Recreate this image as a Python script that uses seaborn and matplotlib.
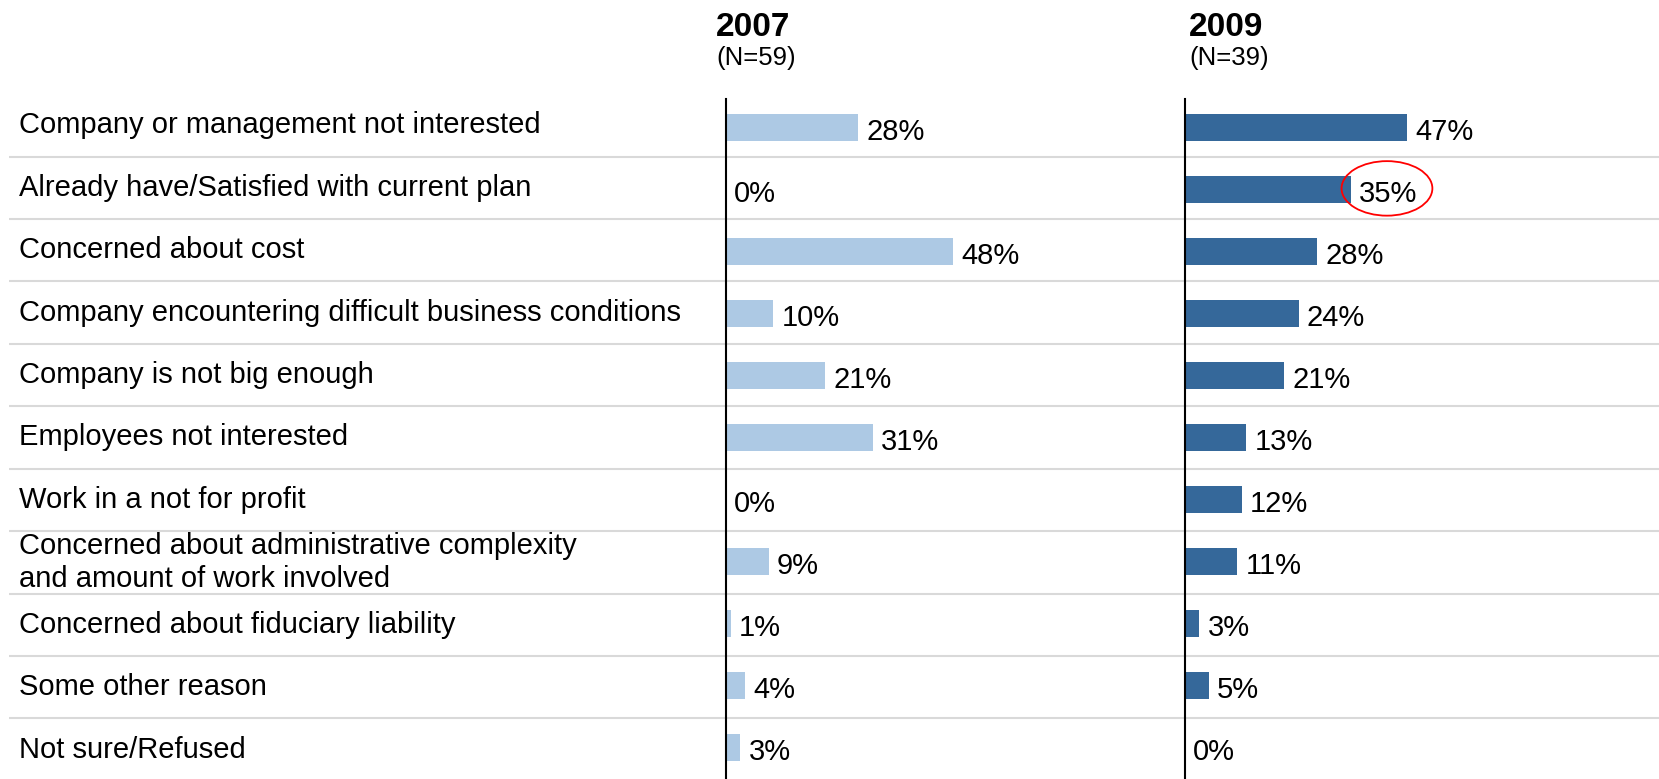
import pandas as pd
import numpy as np
import matplotlib
matplotlib.use("Agg")
import matplotlib.pyplot as plt
import seaborn as sns
from matplotlib.patches import Ellipse

# data
reasons = [
    "Company or management not interested",
    "Already have/Satisfied with current plan",
    "Concerned about cost",
    "Company encountering difficult business conditions",
    "Company is not big enough",
    "Employees not interested",
    "Work in a not for profit",
    "Concerned about administrative complexity\nand amount of work involved",
    "Concerned about fiduciary liability",
    "Some other reason",
    "Not sure/Refused",
]
pct_2007 = [28, 0, 48, 10, 21, 31, 0, 9, 1, 4, 3]
pct_2009 = [47, 35, 28, 24, 21, 13, 12, 11, 3, 5, 0]
years = ["2007", "2009"]
sample_sizes = ["(N=59)", "(N=39)"]

light_blue = "#ADC9E4"
dark_blue = "#35689A"
sep_color = "#D9D9D9"

sns.set_style("white")
plt.rcParams["font.family"] = ["Liberation Sans", "DejaVu Sans"]
plt.rcParams["text.color"] = "black"

W, H = 1659, 779
fig = plt.figure(figsize=(W / 100, H / 100), dpi=100)

df = pd.DataFrame({"reason": reasons, "y2007": pct_2007, "y2009": pct_2009})
n = len(reasons)

# row band geometry (pixels)
rows_top, rows_bottom = 94.2, 780.8
ax_bottom = (H - rows_bottom) / H
ax_height = (rows_bottom - rows_top) / H

# background axes for separators and category labels
bg = fig.add_axes([9 / W, ax_bottom, 1 - 9 / W, ax_height])
bg.set_xlim(0, 1)
bg.set_ylim(n - 0.5, -0.5)
bg.axis("off")
for i in range(n - 1):
    bg.axhline(i + 0.5, color=sep_color, lw=1.5, zorder=0)
for i, r in enumerate(reasons):
    bg.text(10 / W, i, r, fontsize=21, va="center", ha="left",
            transform=bg.get_yaxis_transform(), linespacing=1.2)

px_per_pct = 4.73
panels = [
    ("y2007", light_blue, 726, 716),
    ("y2009", dark_blue, 1185, 1189),
]
axes = []
for (col, color, x0, hx), year, nlab in zip(panels, years, sample_sizes):
    width_px = W - x0 - 2 if col == "y2009" else 1185 - x0 - 20
    ax = fig.add_axes([x0 / W, ax_bottom, width_px / W, ax_height])
    sns.barplot(data=df, x=col, y="reason", orient="h", color=color,
                saturation=1, width=0.44, ax=ax, linewidth=0)
    ax.set_xlim(0, width_px / px_per_pct)
    ax.set_ylim(n - 0.46, -0.54)
    ax.patch.set_alpha(0)
    ax.set_xlabel("")
    ax.set_ylabel("")
    ax.set_xticks([])
    ax.set_yticks([])
    for s in ["top", "right", "bottom"]:
        ax.spines[s].set_visible(False)
    ax.spines["left"].set_color("black")
    ax.spines["left"].set_linewidth(1.5)
    ax.spines["left"].set_bounds(n - 0.46 - 0.02, -0.54 + 0.08)
    for i, v in enumerate(df[col]):
        ax.annotate(f"{v}%", xy=(v, i + 0.07), xytext=(6, 0),
                    textcoords="offset points", va="center", ha="left",
                    fontsize=21)
    fig.text(hx / W, 1 - 27 / H, year, fontsize=24, fontweight="bold",
             va="center", ha="left")
    fig.text(hx / W, 1 - 58 / H, nlab, fontsize=18.5, va="center", ha="left")
    axes.append(ax)

# red highlight around 35% in 2009
axes[1].add_patch(Ellipse((42.7, 0.98), 19.2, 0.88, fill=False,
                          edgecolor="red", lw=1.3, zorder=5))

fig.savefig("out.png", dpi=100)
